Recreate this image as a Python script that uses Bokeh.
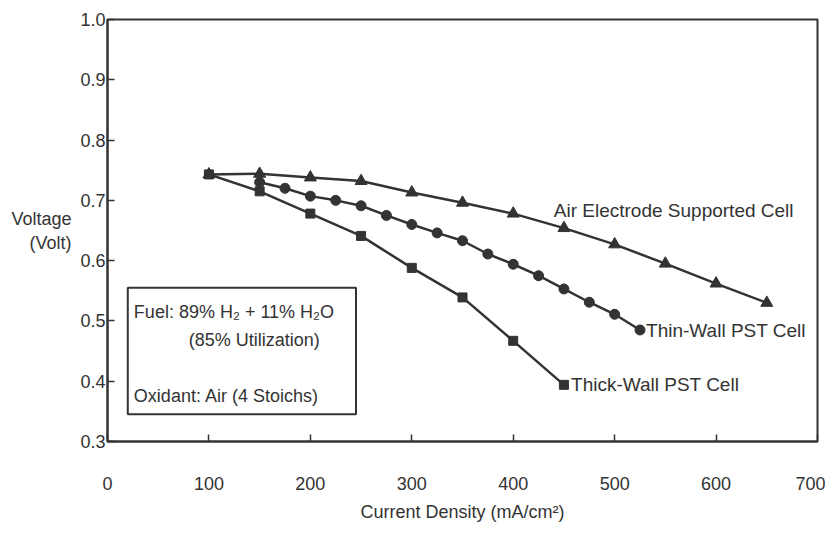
from bokeh.plotting import figure
from bokeh.models import Label, BoxAnnotation, FixedTicker, PrintfTickFormatter, Range1d
from bokeh.embed import file_html
from bokeh.resources import INLINE

# ---- data ----
air_x = [100, 150, 200, 250, 300, 350, 400, 450, 500, 550, 600, 650]
air_y = [0.743, 0.744, 0.738, 0.732, 0.713, 0.696, 0.678, 0.654, 0.627, 0.595, 0.562, 0.530]

thin_x = [150, 175, 200, 225, 250, 275, 300, 325, 350, 375, 400, 425, 450, 475, 500, 525]
thin_y = [0.730, 0.720, 0.707, 0.700, 0.691, 0.675, 0.660, 0.646, 0.633, 0.611, 0.594,
          0.575, 0.553, 0.531, 0.511, 0.485]

thick_x = [100, 150, 200, 250, 300, 350, 400, 450]
thick_y = [0.743, 0.715, 0.678, 0.641, 0.588, 0.539, 0.467, 0.394]

x_ticks = [0, 100, 200, 300, 400, 500, 600, 700]
y_ticks = [0.3, 0.4, 0.5, 0.6, 0.7, 0.8, 0.9, 1.0]

series_labels = ["Air Electrode Supported Cell", "Thin-Wall PST Cell", "Thick-Wall PST Cell"]
box_lines = ["Fuel:  89% H\u2082 + 11% H\u2082O", "(85% Utilization)", "Oxidant:  Air (4 Stoichs)"]

INK = "#333333"
FONT = "Liberation Sans"

p = figure(width=825, height=535, output_backend="svg", toolbar_location=None,
           x_range=Range1d(0, 700), y_range=Range1d(0.3, 1.0),
           min_border_left=107, min_border_right=8, min_border_top=19, min_border_bottom=94)
p.xgrid.visible = False
p.ygrid.visible = False
p.outline_line_color = INK
p.outline_line_width = 2
p.background_fill_color = "white"
p.border_fill_color = "white"

for ax in (p.xaxis[0], p.yaxis[0]):
    ax.axis_line_color = INK
    ax.axis_line_width = 2
    ax.major_tick_line_color = INK
    ax.major_tick_line_width = 1.5
    ax.major_tick_in = 7
    ax.major_tick_out = 0
    ax.minor_tick_line_color = None
    ax.major_label_text_font = FONT
    ax.major_label_text_font_size = "18px"
    ax.major_label_text_color = INK

p.xaxis.ticker = FixedTicker(ticks=x_ticks)
p.yaxis.ticker = FixedTicker(ticks=y_ticks)
p.yaxis.formatter = PrintfTickFormatter(format="%.1f")
p.xaxis.major_label_standoff = 35
p.yaxis.major_label_standoff = 2
p.xaxis.axis_label = "Current Density (mA/cm\u00b2)"
p.xaxis.axis_label_text_font = FONT
p.xaxis.axis_label_text_font_size = "18px"
p.xaxis.axis_label_text_font_style = "normal"
p.xaxis.axis_label_text_color = INK
p.xaxis.axis_label_standoff = 9

# y axis title, horizontal
p.yaxis.axis_label = "Voltage\n(Volt)"
p.yaxis.axis_label_text_font = FONT
p.yaxis.axis_label_text_font_size = "18px"
p.yaxis.axis_label_text_font_style = "normal"
p.yaxis.axis_label_text_color = INK
p.yaxis.axis_label_standoff = 6
try:
    p.yaxis.axis_label_orientation = "horizontal"
except Exception:
    pass
try:
    p.yaxis.axis_label_text_align = "center"
except Exception:
    pass

# series
p.line(air_x, air_y, line_color=INK, line_width=2.5)
p.scatter(air_x, air_y, marker="triangle", size=12, color=INK)
p.line(thin_x, thin_y, line_color=INK, line_width=2.5)
p.scatter(thin_x, thin_y, marker="circle", size=10, color=INK)
p.line(thick_x, thick_y, line_color=INK, line_width=2.5)
p.scatter(thick_x, thick_y, marker="square", size=9, color=INK)

# series labels
lab_pos = [(440, 0.683), (531, 0.484), (457, 0.394)]
for txt, (lx, ly) in zip(series_labels, lab_pos):
    p.add_layout(Label(x=lx, y=ly, text=txt, text_font=FONT, text_font_size="19px",
                       text_color=INK, text_baseline="middle", text_align="left"))

# condition box
p.add_layout(BoxAnnotation(left=20, right=245, bottom=0.345, top=0.555,
                           fill_color=None, fill_alpha=0, line_color=INK,
                           line_alpha=1.0, line_width=2))
box_pos = [(26, 0.514), (80, 0.469), (26, 0.376)]
for txt, (lx, ly) in zip(box_lines, box_pos):
    p.add_layout(Label(x=lx, y=ly, text=txt, text_font=FONT, text_font_size="18px",
                       text_color=INK, text_baseline="middle", text_align="left"))

open("out.html", "w").write(file_html(p, INLINE))
